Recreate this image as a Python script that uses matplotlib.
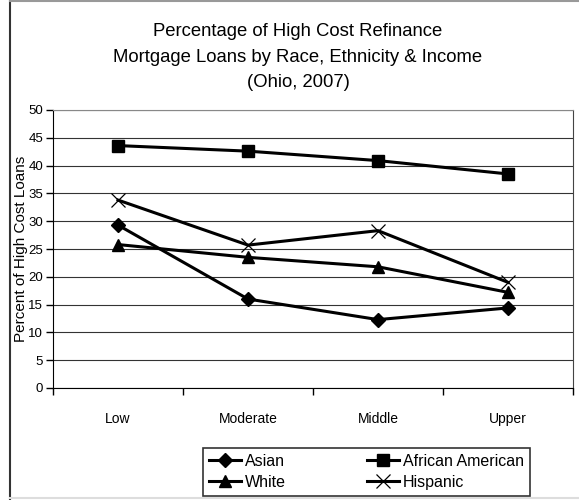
import matplotlib
matplotlib.use("Agg")
import matplotlib.pyplot as plt
from matplotlib.lines import Line2D

# data
categories = ["Low", "Moderate", "Middle", "Upper"]
asian = [29.3, 16.0, 12.3, 14.4]
african_american = [43.6, 42.6, 40.9, 38.5]
white = [25.8, 23.5, 21.8, 17.2]
hispanic = [33.8, 25.7, 28.3, 19.0]
yticks = list(range(0, 51, 5))

plt.rcParams["font.family"] = ["Liberation Sans", "DejaVu Sans"]

fig = plt.figure(figsize=(5.79, 5.0), dpi=100)
ax = fig.add_axes([53 / 579, 112 / 500, 520 / 579, 278 / 500])

x = range(len(categories))
l_as, = ax.plot(x, asian, "-D", color="black", lw=2.2, ms=7.5, label="Asian")
l_aa, = ax.plot(x, african_american, "-s", color="black", lw=2.2, ms=8.5, label="African American")
l_wh, = ax.plot(x, white, "-^", color="black", lw=2.2, ms=8.5, label="White")
l_hi, = ax.plot(x, hispanic, "-x", color="black", lw=2.2, ms=10, mew=0.9, label="Hispanic")

ax.set_xlim(-0.5, 3.5)
ax.set_ylim(0, 50)
ax.set_yticks(yticks)
ax.set_xticks([-0.5, 0.5, 1.5, 2.5, 3.5])
ax.set_xticklabels([])
ax.set_xticks(list(x), minor=True)
ax.set_xticklabels(categories, minor=True)
ax.tick_params(axis="x", which="minor", length=0, pad=17, labelsize=10)
ax.tick_params(axis="x", which="major", direction="out", length=5, width=1)
ax.tick_params(axis="y", direction="out", length=5, width=1, labelsize=9.5, pad=2)
ax.yaxis.grid(True, color="#333333", lw=0.8)
ax.set_axisbelow(True)
ax.spines["top"].set_color("#888888")
ax.spines["right"].set_color("#444444")
ax.spines["left"].set_color("black")
ax.spines["bottom"].set_color("black")
ax.set_ylabel("Percent of High Cost Loans", fontsize=11)
ax.yaxis.set_label_coords(-0.048, 0.5)

fig.text(298 / 579, 1 - 57 / 500,
         "Percentage of High Cost Refinance\nMortgage Loans by Race, Ethnicity & Income\n(Ohio, 2007)",
         ha="center", va="center", fontsize=13.3, linespacing=1.65)

# outer chart border
fig.add_artist(Line2D([10 / 579, 10 / 579], [0, 1], color="#333333", lw=1.5))
fig.add_artist(Line2D([10 / 579, 1], [0.999, 0.999], color="#999999", lw=1.5))
fig.add_artist(Line2D([10 / 579, 1], [0.004, 0.004], color="#dddddd", lw=1.5))

# legend fills row by row in the reference
handles = [l_as, l_wh, l_aa, l_hi]
labels = [h.get_label() for h in handles]
leg = fig.legend(handles, labels, ncol=2, loc="lower left",
                 bbox_to_anchor=(203 / 579, 4 / 500, 327 / 579, 51 / 500),
                 mode="expand", fontsize=11.5, frameon=True, fancybox=False,
                 handlelength=2.0, handletextpad=0.2, borderpad=0.4,
                 labelspacing=0.35, borderaxespad=0)
leg.get_frame().set_edgecolor("black")
leg.get_frame().set_linewidth(1.2)

fig.savefig("out.png", dpi=100)
